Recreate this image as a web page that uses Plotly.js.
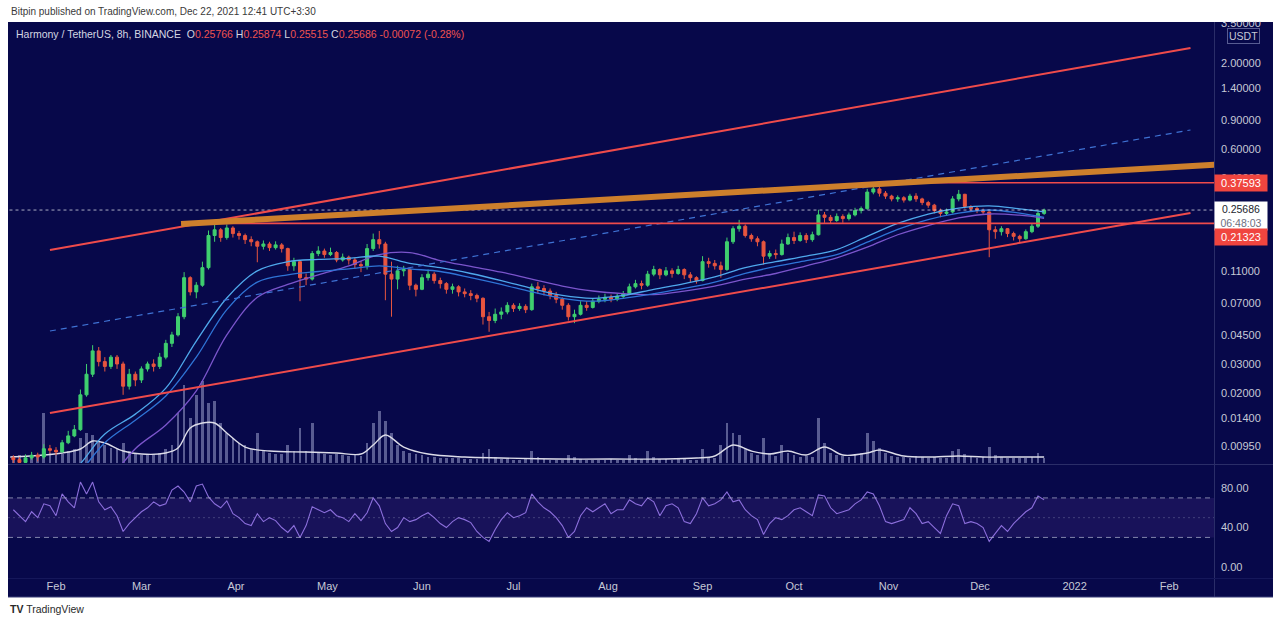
<!DOCTYPE html>
<html><head><meta charset="utf-8">
<script src="https://cdn.plot.ly/plotly-3.0.1.min.js"></script>
<style>html,body{margin:0;padding:0;background:#fff;}#chart{width:1280px;height:625px;}</style>
</head><body><div id="chart"></div>
<script>
// ---------------- DATA ----------------
const candleStart = [2021, 0, 18];   // first 2-day candle
const candleStepDays = 2;
const open = [
0.0081,0.0079,0.0076,0.0081,0.0084,0.0082,0.0092,0.0090,0.0088,0.0100,
0.0110,0.0120,0.0195,0.026,0.036,0.031,0.029,0.033,0.030,0.022,
0.026,0.024,0.028,0.030,0.029,0.033,0.040,0.045,0.058,0.100,
0.082,0.090,0.115,0.180,0.195,0.175,0.200,0.185,0.180,0.170,
0.165,0.155,0.160,0.152,0.158,0.150,0.118,0.125,0.100,0.098,
0.140,0.145,0.138,0.142,0.128,0.133,0.128,0.120,0.118,0.150,
0.170,0.160,0.105,0.098,0.110,0.112,0.090,0.085,0.100,0.105,
0.096,0.092,0.085,0.088,0.082,0.080,0.078,0.075,0.058,0.055,
0.060,0.062,0.068,0.065,0.067,0.064,0.088,0.086,0.083,0.078,
0.074,0.068,0.058,0.060,0.068,0.066,0.072,0.074,0.076,0.074,
0.077,0.080,0.088,0.092,0.090,0.105,0.112,0.104,0.110,0.106,
0.112,0.104,0.100,0.096,0.125,0.122,0.118,0.112,0.165,0.198,
0.205,0.180,0.172,0.165,0.135,0.140,0.138,0.160,0.175,0.168,
0.180,0.170,0.182,0.240,0.232,0.222,0.235,0.228,0.240,0.255,
0.262,0.330,0.345,0.325,0.312,0.300,0.305,0.295,0.312,0.300,
0.285,0.275,0.255,0.245,0.250,0.300,0.320,0.270,0.262,0.255,
0.250,0.195,0.190,0.198,0.185,0.178,0.172,0.190,0.205,0.245];
const high = [
0.0084,0.0082,0.0085,0.0088,0.0087,0.0098,0.0097,0.0094,0.0104,0.0118,
0.0128,0.021,0.030,0.039,0.038,0.033,0.034,0.034,0.031,0.028,
0.027,0.029,0.031,0.032,0.035,0.042,0.047,0.061,0.108,0.102,
0.094,0.125,0.193,0.215,0.200,0.210,0.205,0.192,0.185,0.178,
0.168,0.168,0.165,0.166,0.162,0.152,0.132,0.126,0.106,0.145,
0.155,0.150,0.152,0.145,0.140,0.136,0.132,0.126,0.160,0.185,
0.192,0.165,0.125,0.118,0.118,0.114,0.092,0.105,0.112,0.108,
0.100,0.094,0.092,0.090,0.086,0.084,0.080,0.076,0.062,0.065,
0.066,0.071,0.070,0.070,0.069,0.092,0.094,0.090,0.086,0.082,
0.076,0.070,0.064,0.072,0.072,0.075,0.078,0.080,0.079,0.080,
0.083,0.092,0.097,0.096,0.110,0.118,0.114,0.116,0.114,0.118,
0.114,0.108,0.102,0.135,0.132,0.128,0.125,0.175,0.205,0.224,
0.210,0.185,0.178,0.168,0.146,0.148,0.170,0.185,0.190,0.188,
0.186,0.190,0.258,0.250,0.240,0.245,0.242,0.248,0.265,0.270,
0.345,0.376,0.360,0.335,0.318,0.315,0.312,0.322,0.325,0.305,
0.292,0.280,0.262,0.262,0.312,0.340,0.322,0.275,0.268,0.262,
0.252,0.205,0.205,0.200,0.190,0.182,0.196,0.212,0.255,0.262];
const low = [
0.0074,0.0072,0.0073,0.0079,0.0077,0.0080,0.0086,0.0084,0.0087,0.0098,
0.0108,0.0118,0.019,0.025,0.029,0.027,0.028,0.028,0.0195,0.021,
0.022,0.023,0.027,0.027,0.028,0.032,0.038,0.044,0.056,0.078,
0.075,0.088,0.112,0.165,0.165,0.170,0.175,0.170,0.160,0.155,
0.124,0.148,0.145,0.148,0.142,0.110,0.110,0.072,0.090,0.096,
0.135,0.132,0.135,0.124,0.125,0.120,0.113,0.108,0.112,0.145,
0.150,0.073,0.058,0.085,0.102,0.084,0.077,0.084,0.096,0.092,
0.086,0.080,0.080,0.077,0.076,0.073,0.071,0.052,0.047,0.053,
0.056,0.060,0.062,0.063,0.061,0.063,0.080,0.078,0.074,0.070,
0.064,0.055,0.053,0.059,0.063,0.065,0.070,0.071,0.071,0.072,
0.075,0.079,0.086,0.085,0.088,0.102,0.098,0.102,0.100,0.104,
0.098,0.094,0.092,0.095,0.115,0.112,0.100,0.110,0.160,0.190,
0.175,0.165,0.155,0.120,0.130,0.130,0.136,0.158,0.160,0.165,
0.162,0.165,0.180,0.215,0.212,0.218,0.215,0.222,0.235,0.245,
0.258,0.320,0.310,0.300,0.290,0.288,0.285,0.290,0.288,0.275,
0.265,0.245,0.232,0.238,0.245,0.290,0.262,0.250,0.246,0.240,
0.133,0.172,0.180,0.176,0.168,0.164,0.170,0.186,0.200,0.240];
const close = [
0.0079,0.0076,0.0081,0.0084,0.0082,0.0092,0.0090,0.0088,0.0100,0.0110,
0.0120,0.0195,0.026,0.036,0.031,0.029,0.033,0.030,0.022,0.026,
0.024,0.028,0.030,0.029,0.033,0.040,0.045,0.058,0.100,0.082,
0.090,0.115,0.180,0.195,0.175,0.200,0.185,0.180,0.170,0.165,
0.155,0.160,0.152,0.158,0.150,0.118,0.125,0.100,0.098,0.140,
0.145,0.138,0.142,0.128,0.133,0.128,0.120,0.118,0.150,0.170,
0.160,0.105,0.098,0.110,0.112,0.090,0.085,0.100,0.105,0.096,
0.092,0.085,0.088,0.082,0.080,0.078,0.075,0.058,0.055,0.060,
0.062,0.068,0.065,0.067,0.064,0.088,0.086,0.083,0.078,0.074,
0.068,0.058,0.060,0.068,0.066,0.072,0.074,0.076,0.074,0.077,
0.080,0.088,0.092,0.090,0.105,0.112,0.104,0.110,0.106,0.112,
0.104,0.100,0.096,0.125,0.122,0.118,0.112,0.165,0.198,0.205,
0.180,0.172,0.165,0.135,0.140,0.138,0.160,0.175,0.168,0.180,
0.170,0.182,0.240,0.232,0.222,0.235,0.228,0.240,0.255,0.262,
0.330,0.345,0.325,0.312,0.300,0.305,0.295,0.312,0.300,0.285,
0.275,0.255,0.245,0.250,0.300,0.320,0.270,0.262,0.255,0.250,
0.195,0.190,0.198,0.185,0.178,0.172,0.190,0.205,0.245,0.25686];
const volume = [
6,8,5,7,6,50,10,8,9,12,14,25,30,28,22,18,15,14,20,12,
10,8,8,9,10,14,18,50,78,45,68,82,60,62,40,30,25,20,18,14,
30,12,10,9,9,18,12,35,12,40,10,9,8,9,8,7,8,7,20,40,
52,42,30,18,12,10,9,8,6,6,5,5,5,5,4,4,4,10,14,6,
4,4,3,3,4,12,6,4,3,3,3,8,6,4,3,3,3,3,4,3,
3,8,5,4,12,6,4,4,3,4,4,3,3,14,6,5,18,40,30,28,
14,10,8,25,10,7,18,10,8,6,7,6,45,20,10,8,7,6,8,10,
30,22,15,10,7,6,6,5,7,6,5,6,5,5,12,14,9,6,5,6,
16,8,6,5,5,5,5,6,10,5];
const rsi = [
58,52,46,56,50,64,62,52,74,66, 60,86,74,86,66,58,61,52,36,44,
50,56,60,66,62,64,78,82,76,66, 82,84,71,64,60,67,54,50,44,42,
54,46,50,47,40,35,42,30,42,61, 58,55,58,52,50,46,54,47,55,70,
62,44,36,40,50,46,48,52,55,50, 44,40,46,50,48,45,36,30,26,38,
48,55,50,52,55,74,66,60,56,50, 42,30,36,52,60,56,60,64,54,58,
58,68,64,62,70,66,52,62,64,60, 46,44,54,70,62,64,68,76,66,68,
58,52,48,33,44,50,48,52,58,60, 56,52,73,72,60,54,56,58,64,68,
76,74,62,46,44,46,48,60,54,44, 46,40,34,52,64,62,44,46,44,40,
26,34,42,36,44,50,56,60,72,68];

const maDates = ['2021-01-28','2021-02-07','2021-02-17','2021-02-27','2021-03-09','2021-03-19','2021-03-29','2021-04-08','2021-04-18','2021-04-28','2021-05-08','2021-05-18','2021-05-28','2021-06-07','2021-06-17','2021-06-27','2021-07-07','2021-07-17','2021-07-27','2021-08-06','2021-08-16','2021-08-26','2021-09-05','2021-09-15','2021-09-25','2021-10-05','2021-10-15','2021-10-25','2021-11-04','2021-11-14','2021-11-24','2021-12-04','2021-12-14','2021-12-22'];
const maFast = [0.0050,0.0068,0.0113,0.0149,0.0214,0.0413,0.0753,0.110,0.125,0.129,0.131,0.135,0.122,0.115,0.106,0.096,0.086,0.078,0.075,0.078,0.085,0.092,0.101,0.115,0.125,0.135,0.148,0.178,0.213,0.243,0.264,0.272,0.261,0.250];
const maMid  = [0.0045,0.0061,0.0100,0.0137,0.0192,0.033,0.064,0.094,0.104,0.109,0.113,0.118,0.113,0.109,0.100,0.091,0.082,0.075,0.072,0.075,0.080,0.086,0.094,0.106,0.117,0.127,0.138,0.164,0.196,0.225,0.246,0.257,0.246,0.232];
const maSlow = [0.0030,0.0036,0.0055,0.0092,0.0128,0.0206,0.045,0.076,0.091,0.104,0.118,0.138,0.142,0.127,0.117,0.108,0.098,0.089,0.083,0.080,0.079,0.083,0.089,0.098,0.106,0.118,0.132,0.153,0.182,0.207,0.230,0.243,0.239,0.229];

const volMaDates = ['2021-01-17','2021-01-28','2021-02-03','2021-02-09','2021-02-13','2021-02-17','2021-02-23','2021-03-01','2021-03-09','2021-03-13','2021-03-17','2021-03-21','2021-03-25','2021-03-29','2021-04-04','2021-04-12','2021-04-24','2021-05-04','2021-05-12','2021-05-16','2021-05-20','2021-05-26','2021-06-03','2021-06-15','2021-06-27','2021-07-15','2021-08-02','2021-08-20','2021-08-30','2021-09-05','2021-09-11','2021-09-17','2021-09-23','2021-09-29','2021-10-05','2021-10-11','2021-10-17','2021-10-25','2021-10-29','2021-11-06','2021-11-14','2021-11-24','2021-12-02','2021-12-10','2021-12-22'];
const volMa = [6,8,10,14,22,20,12,9,10,15,35,40,40,30,16,12,11,10,9,18,28,16,9,6,5,4,4,4,5,7,18,12,9,12,8,16,8,10,13,7,6,7,6,6,6];

// drawn trend lines (end points)
const channelDates = ['2021-01-30','2022-02-08'];
const channelTop = [0.147, 2.466];
const channelBottom = [0.01513, 0.2465];
const channelMid = [0.0475, 0.785];
const orangeDates = ['2021-03-14','2022-02-16'];
const orangeLine = [0.2115, 0.483];
const resistanceLevel = 0.37593, resistanceFrom = '2021-10-26';
const supportLevel = 0.21323, supportFrom = '2021-03-14';
const lastPrice = 0.25686, countdown = '06:48:03';
const lineEnd = '2022-03-01', lineStartAll = '2021-01-01';

const monthTicks = ['2021-02-01','2021-03-01','2021-04-01','2021-05-01','2021-06-01','2021-07-01','2021-08-01','2021-09-01','2021-10-01','2021-11-01','2021-12-01','2022-01-01','2022-02-01'];
const monthLabels = ['Feb','Mar','Apr','May','Jun','Jul','Aug','Sep','Oct','Nov','Dec','2022','Feb'];
const priceTicks = [3.5,2,1.4,0.9,0.6,0.4,0.11,0.07,0.045,0.03,0.02,0.014,0.0095];
const priceTickText = ['3.50000','2.00000','1.40000','0.90000','0.60000','0.40000','0.11000','0.07000','0.04500','0.03000','0.02000','0.01400','0.00950'];
const rsiTicks = [0,40,80], rsiTickText = ['0.00','40.00','80.00'];
const rsiUpper = 70, rsiMid = 50, rsiLower = 30;
const headerText = 'Bitpin published on TradingView.com, Dec 22, 2021 12:41 UTC+3:30';
const symbolText = 'Harmony / TetherUS, 8h, BINANCE';
const ohlcLetters = ['O','H','L','C'];
const ohlcValues = ['0.25766','0.25874','0.25515','0.25686'];
const changeText = '-0.00072 (-0.28%)';

// ---------------- STYLE / LAYOUT ----------------
const BG = '#07084a', SEP = '#2a2d68', TXT = '#c6c8d6', RED = '#ef4b4b';
const GREEN_C = '#3fcf6f', RED_C = '#e8553f';
const FONT = 'Liberation Sans, Arial, sans-serif';
const L = 8, R = 1214, T = 22, B = 578;
const px = x => (x - L) / (R - L);
const py = y => (B - y) / (B - T);

const dates = close.map((_, i) => new Date(Date.UTC(candleStart[0], candleStart[1], candleStart[2] + i * candleStepDays)).toISOString().slice(0, 10));

const data = [
  {type:'bar', x:dates, y:volume, xaxis:'x', yaxis:'y', marker:{color:'rgba(140,144,190,0.62)', line:{width:0}}, width:0.9*86400000, hoverinfo:'none'},
  {type:'scatter', mode:'lines', x:volMaDates, y:volMa, xaxis:'x', yaxis:'y', line:{color:'#dcdce8', width:1.4, shape:'spline'}, hoverinfo:'none'},
  {type:'scatter', mode:'lines', x:maDates, y:maSlow, xaxis:'x', yaxis:'y3', line:{color:'#7b55cc', width:1.3, shape:'spline'}, hoverinfo:'none'},
  {type:'scatter', mode:'lines', x:maDates, y:maMid, xaxis:'x', yaxis:'y3', line:{color:'#2f74d6', width:1.3, shape:'spline'}, hoverinfo:'none'},
  {type:'scatter', mode:'lines', x:maDates, y:maFast, xaxis:'x', yaxis:'y3', line:{color:'#4fa9ec', width:1.3, shape:'spline'}, hoverinfo:'none'},
  {type:'scatter', mode:'lines', x:[lineStartAll, lineEnd], y:[lastPrice, lastPrice], xaxis:'x', yaxis:'y3', line:{color:'rgba(210,212,225,0.8)', width:1, dash:'dot'}, hoverinfo:'none'},
  {type:'candlestick', x:dates, open:open, high:high, low:low, close:close, xaxis:'x', yaxis:'y3', whiskerwidth:0,
   increasing:{line:{color:GREEN_C, width:1}, fillcolor:GREEN_C}, decreasing:{line:{color:RED_C, width:1}, fillcolor:RED_C}, hoverinfo:'none'},
  {type:'scatter', mode:'lines', x:channelDates, y:channelMid, xaxis:'x', yaxis:'y3', line:{color:'#3f72d4', width:1.2, dash:'6px,5px'}, hoverinfo:'none'},
  {type:'scatter', mode:'lines', x:channelDates, y:channelTop, xaxis:'x', yaxis:'y3', line:{color:RED, width:2}, hoverinfo:'none'},
  {type:'scatter', mode:'lines', x:channelDates, y:channelBottom, xaxis:'x', yaxis:'y3', line:{color:RED, width:2}, hoverinfo:'none'},
  {type:'scatter', mode:'lines', x:[supportFrom, lineEnd], y:[supportLevel, supportLevel], xaxis:'x', yaxis:'y3', line:{color:RED, width:1.6}, hoverinfo:'none'},
  {type:'scatter', mode:'lines', x:[resistanceFrom, lineEnd], y:[resistanceLevel, resistanceLevel], xaxis:'x', yaxis:'y3', line:{color:RED, width:1.6}, hoverinfo:'none'},
  {type:'scatter', mode:'lines', x:orangeDates, y:orangeLine, xaxis:'x', yaxis:'y3', line:{color:'#cd7f2c', width:6}, hoverinfo:'none'},
  {type:'scatter', mode:'lines', x:dates, y:rsi, xaxis:'x', yaxis:'y2', line:{color:'#8c6fdc', width:1.1}, hoverinfo:'none'}
];

const axFont = {family:FONT, size:11, color:TXT};
const legendHtml = symbolText + '\u00a0 ' + ohlcLetters.map((l, i) => l + '<span style="color:#ef5350">' + ohlcValues[i] + '</span>').join(' ') + ' <span style="color:#ef5350">' + changeText + '</span>';

const shapes = [
  {type:'rect', xref:'paper', yref:'paper', x0:px(8), x1:px(1273), y0:py(597), y1:py(22), fillcolor:BG, line:{width:0}, layer:'below'},
  {type:'rect', xref:'paper', yref:'y2', x0:0, x1:1, y0:rsiLower, y1:rsiUpper, fillcolor:'rgba(126,87,194,0.14)', line:{width:0}, layer:'below'},
  {type:'line', xref:'paper', yref:'y2', x0:0, x1:1, y0:rsiUpper, y1:rsiUpper, line:{color:'rgba(170,172,200,0.75)', width:1, dash:'5px,4px'}},
  {type:'line', xref:'paper', yref:'y2', x0:0, x1:1, y0:rsiLower, y1:rsiLower, line:{color:'rgba(170,172,200,0.75)', width:1, dash:'5px,4px'}},
  {type:'line', xref:'paper', yref:'y2', x0:0, x1:1, y0:rsiMid, y1:rsiMid, line:{color:'rgba(150,152,190,0.35)', width:1, dash:'2px,3px'}},
  {type:'line', xref:'paper', yref:'paper', x0:px(1214.5), x1:px(1214.5), y0:py(22), y1:py(597), line:{color:SEP, width:1}},
  {type:'line', xref:'paper', yref:'paper', x0:px(8), x1:px(1273), y0:py(464.5), y1:py(464.5), line:{color:SEP, width:1.2}},
  {type:'line', xref:'paper', yref:'paper', x0:px(8), x1:px(1273), y0:py(578.5), y1:py(578.5), line:{color:'#15175a', width:1}},
  {type:'line', xref:'paper', yref:'paper', x0:px(8), x1:px(1273), y0:py(597), y1:py(597), line:{color:'#3a3e78', width:1}},
  {type:'rect', xref:'paper', yref:'paper', x0:px(1200), x1:px(1280), y0:py(21.5), y1:py(0), fillcolor:'#ffffff', line:{width:0}, layer:'above'}
];

const annotations = [
  {xref:'paper', yref:'paper', x:px(9), y:py(12), xanchor:'left', yanchor:'middle', showarrow:false, text:headerText, font:{family:FONT, size:10, color:'#3a3a3a'}},
  {xref:'paper', yref:'paper', x:px(14), y:py(34), xanchor:'left', yanchor:'middle', showarrow:false, text:legendHtml, font:{family:FONT, size:10.5, color:'#d4d6e2'}},
  {xref:'paper', yref:'paper', x:px(1243), y:py(36), xanchor:'center', yanchor:'middle', showarrow:false, text:'USDT', font:{family:FONT, size:10.5, color:TXT}, bordercolor:'#585c92', borderwidth:1, borderpad:1},
  {xref:'paper', yref:'y3', x:1, y:Math.log10(resistanceLevel), xanchor:'left', yanchor:'middle', showarrow:false, text:resistanceLevel.toFixed(5), width:50, height:14, align:'center', bgcolor:'#f0453f', font:{family:FONT, size:11, color:'#ffffff'}},
  {xref:'paper', yref:'y3', x:1, y:Math.log10(lastPrice), yshift:-6, xanchor:'left', yanchor:'middle', showarrow:false, text:lastPrice.toFixed(5) + '<br><span style="color:#6d7080">' + countdown + '</span>', width:50, height:26, align:'center', bgcolor:'#ffffff', font:{family:FONT, size:10.5, color:'#1b1d2c'}},
  {xref:'paper', yref:'y3', x:1, y:Math.log10(supportLevel), yshift:-14, xanchor:'left', yanchor:'middle', showarrow:false, text:supportLevel.toFixed(5), width:50, height:14, align:'center', bgcolor:'#f0453f', font:{family:FONT, size:11, color:'#ffffff'}},
  {xref:'paper', yref:'paper', x:px(8), y:py(609), xanchor:'left', yanchor:'middle', showarrow:false, text:'<b>TV</b> TradingView', font:{family:FONT, size:10.5, color:'#2a2a2a'}}
];

const layout = {
  width:1280, height:625,
  margin:{l:L, r:1280 - R, t:T, b:625 - B, pad:0},
  paper_bgcolor:'#ffffff', plot_bgcolor:'rgba(0,0,0,0)',
  showlegend:false, bargap:0,
  font:{family:FONT, size:11, color:TXT},
  xaxis:{type:'date', range:['2021-01-16 06:00','2022-02-15 17:00'], anchor:'y2', tickmode:'array', tickvals:monthTicks, ticktext:monthLabels,
         showgrid:false, zeroline:false, showline:false, ticks:'', tickfont:axFont, rangeslider:{visible:false}, fixedrange:true},
  yaxis:{domain:[0.2068, 1], range:[0, 441], visible:false, fixedrange:true},
  yaxis3:{overlaying:'y', anchor:'x', side:'right', type:'log', range:[-2.123, 0.549], tickmode:'array', tickvals:priceTicks, ticktext:priceTickText,
          showgrid:false, zeroline:false, showline:false, ticks:'', tickfont:axFont, ticklabelstandoff:6, fixedrange:true},
  yaxis2:{domain:[0, 0.2032], anchor:'x', side:'right', range:[-11.1, 103.3], tickmode:'array', tickvals:rsiTicks, ticktext:rsiTickText,
          showgrid:false, zeroline:false, showline:false, ticks:'', tickfont:axFont, ticklabelstandoff:6, fixedrange:true},
  shapes:shapes, annotations:annotations
};

Plotly.newPlot('chart', data, layout, {staticPlot:true, displayModeBar:false});
</script>
</body></html>
